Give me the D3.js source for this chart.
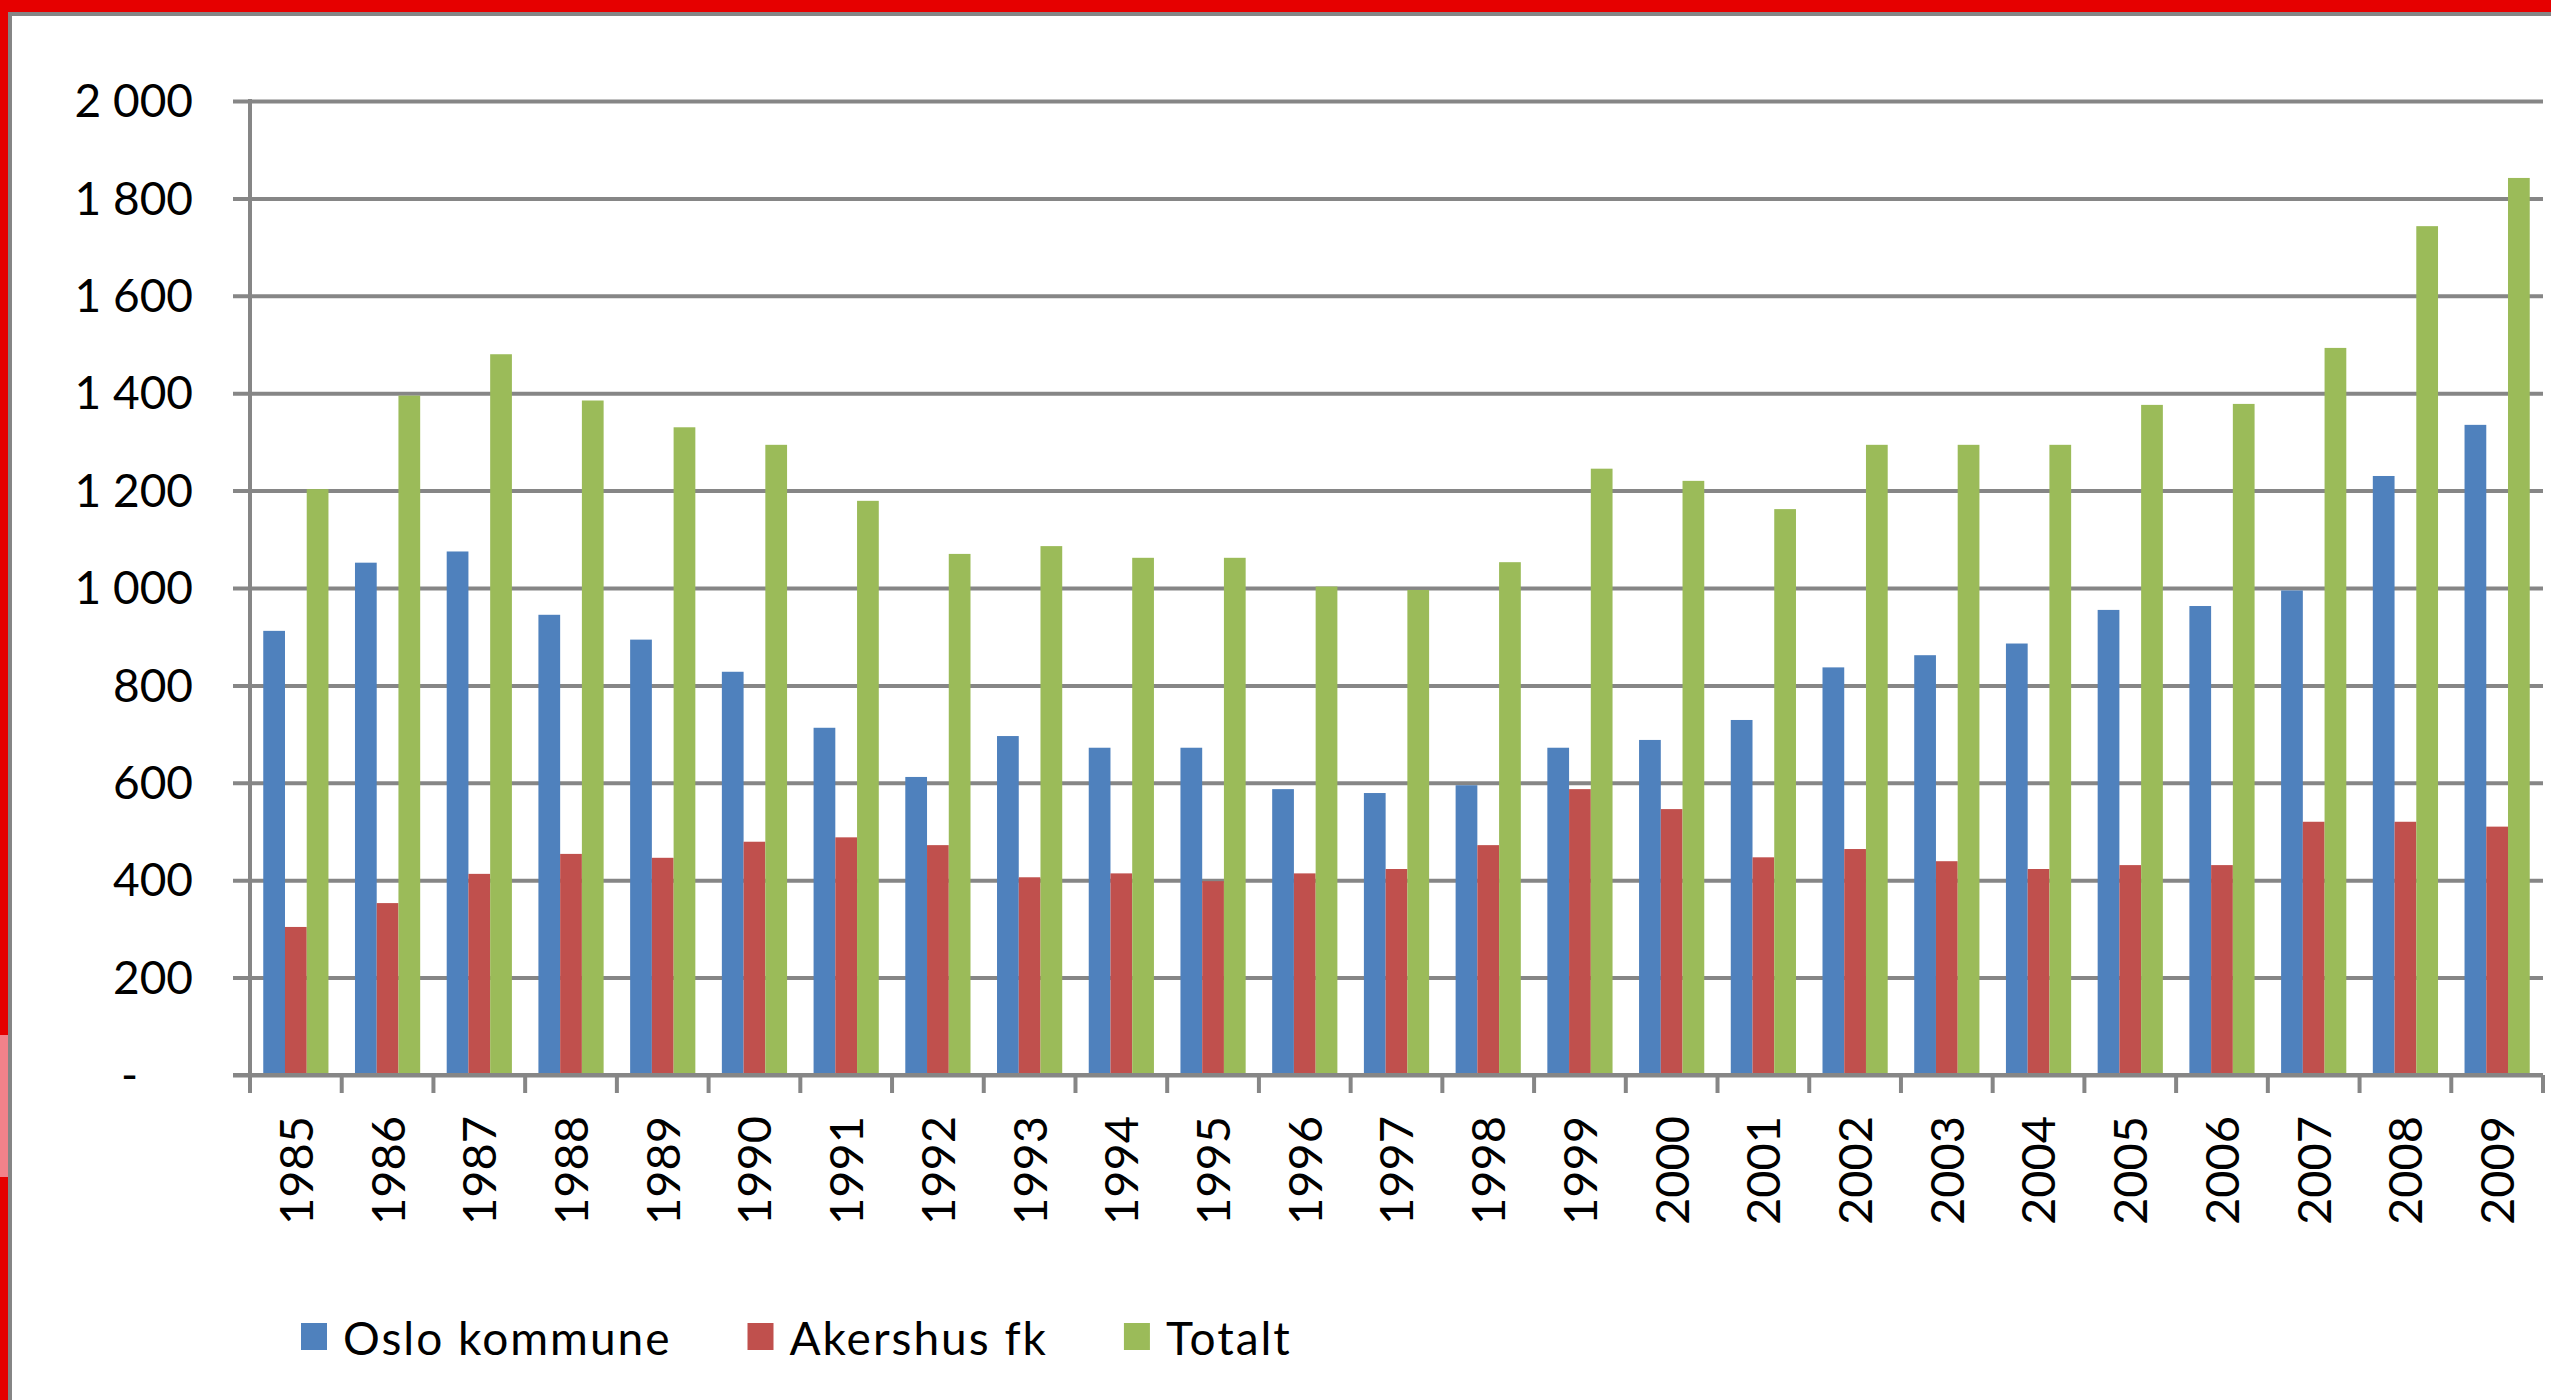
<!DOCTYPE html>
<html>
<head>
<meta charset="utf-8">
<script src="https://cdn.jsdelivr.net/npm/d3@7"></script>
<style>
    html, body { margin: 0; padding: 0; background: #ffffff; }
    svg { display: block; }
    text { font-family: Lato, "Open Sans", sans-serif; fill: #000000; }
</style>
</head>
<body>
<svg id="chart" width="2551" height="1400"></svg>
<script>
// Years on the category axis
var years = ["1985", "1986", "1987", "1988", "1989", "1990", "1991", "1992", "1993",
    "1994", "1995", "1996", "1997", "1998", "1999", "2000", "2001", "2002", "2003",
    "2004", "2005", "2006", "2007", "2008", "2009"];

var seriesNames = ["Oslo kommune", "Akershus fk", "Totalt"];

var osloValues = [912, 1052, 1075, 945, 894, 828, 713, 612, 696, 672, 672, 587, 579,
    595, 672, 688, 729, 837, 862, 886, 955, 963, 995, 1230, 1335];

var akershusValues = [304, 353, 413, 454, 446, 479, 488, 472, 406, 414, 398, 414, 423,
    472, 587, 546, 447, 464, 439, 423, 431, 431, 520, 520, 510];

var totalValues = [1203, 1395, 1480, 1385, 1330, 1294, 1179, 1070, 1086, 1062, 1062,
    1003, 996, 1053, 1245, 1220, 1162, 1294, 1294, 1294, 1376, 1378, 1493, 1743, 1842];

var yTicks = [0, 200, 400, 600, 800, 1000, 1200, 1400, 1600, 1800, 2000];

var seriesColors = ["#4f81bd", "#c0504d", "#9bbb59"];

var svg = d3.select("#chart");

// frame round the chart
svg.append("rect").attr("x", 0).attr("y", 0).attr("width", 2551).attr("height", 12).attr("fill", "#e60000");
svg.append("rect").attr("x", 0).attr("y", 0).attr("width", 8).attr("height", 1400).attr("fill", "#e60000");
svg.append("rect").attr("x", 0).attr("y", 1035).attr("width", 8).attr("height", 142).attr("fill", "#f2828a");
svg.append("rect").attr("x", 8).attr("y", 12).attr("width", 2543).attr("height", 4).attr("fill", "#858585");
svg.append("rect").attr("x", 8).attr("y", 12).attr("width", 4).attr("height", 1388).attr("fill", "#858585");

// plot area (note: "top" is taken by window.top, so use other names)
var plotLeft = 250, plotRight = 2543, plotTop = 101, plotBottom = 1075;

var x0 = d3.scaleBand().domain(years).range([plotLeft, plotRight]).padding(0);
var x1 = d3.scaleBand().domain(d3.range(seriesNames.length))
    .range([0, x0.bandwidth()]).paddingInner(0).paddingOuter(0.61);
var y = d3.scaleLinear().domain([0, 2000]).range([plotBottom, plotTop]);

var gridColor = "#868686";

// horizontal gridlines, with the small tick stub on the left
var yAxis = d3.axisLeft(y)
    .tickValues(yTicks)
    .tickSize(-(plotRight - plotLeft))
    .tickPadding(40)
    .tickFormat(function(d) {
        if (d === 0) return "-";
        return d3.format(",")(d).replace(/,/g, " ");
    });

var gY = svg.append("g").attr("transform", "translate(" + plotLeft + ",0)").call(yAxis);
gY.select(".domain").remove();
gY.selectAll(".tick line")
    .attr("x1", -17)
    .attr("stroke", gridColor)
    .attr("stroke-width", 4);
gY.selectAll(".tick text")
    .style("font-size", "46px")
    .attr("fill", "#000")
    .attr("dy", "0.34em")
    .attr("x", function(d) { return d === 0 ? -112 : -57; });

// bars
var seriesData = [osloValues, akershusValues, totalValues];
var groups = svg.append("g").selectAll("g")
    .data(years)
    .join("g")
    .attr("transform", function(d) { return "translate(" + x0(d) + ",0)"; });

groups.selectAll("rect")
    .data(function(d, i) {
        return seriesData.map(function(vals, s) { return { s: s, v: vals[i] }; });
    })
    .join("rect")
    .attr("x", function(d) { return x1(d.s); })
    .attr("width", x1.bandwidth())
    .attr("y", function(d) { return y(d.v); })
    .attr("height", function(d) { return y(0) - y(d.v); })
    .attr("fill", function(d) { return seriesColors[d.s]; });

// vertical axis line
svg.append("line")
    .attr("x1", plotLeft).attr("x2", plotLeft)
    .attr("y1", plotTop - 2).attr("y2", plotBottom + 18)
    .attr("stroke", gridColor).attr("stroke-width", 4);

// category axis, ticks sit between the years
var xAxis = d3.axisBottom(x0).tickSize(0).tickPadding(0);
var gX = svg.append("g").attr("transform", "translate(0," + plotBottom + ")").call(xAxis);
gX.select(".domain").remove();
gX.selectAll(".tick text")
    .style("font-size", "47px")
    .attr("fill", "#000")
    .attr("text-anchor", "end")
    .attr("transform", "rotate(-90)")
    .attr("x", -41)
    .attr("y", 0)
    .attr("dy", "0.36em");

svg.append("line")
    .attr("x1", plotLeft - 17).attr("x2", plotRight)
    .attr("y1", plotBottom).attr("y2", plotBottom)
    .attr("stroke", gridColor).attr("stroke-width", 4);

svg.append("g").selectAll("line")
    .data(years.concat(["end"]))
    .join("line")
    .attr("x1", function(d, i) { return plotLeft + i * x0.step(); })
    .attr("x2", function(d, i) { return plotLeft + i * x0.step(); })
    .attr("y1", plotBottom)
    .attr("y2", plotBottom + 18)
    .attr("stroke", gridColor)
    .attr("stroke-width", 4);

// legend, laid out one item after the other
var legend = svg.append("g").attr("transform", "translate(301,1323)");
var lx = 0;
seriesNames.forEach(function(name, i) {
    legend.append("rect")
        .attr("x", lx).attr("y", 0)
        .attr("width", 26).attr("height", 27)
        .attr("fill", seriesColors[i]);
    var t = legend.append("text")
        .attr("x", lx + 42)
        .attr("y", 32)
        .style("font-size", "46px")
        .style("letter-spacing", "2px")
        .text(name);
    lx += 42 + t.node().getComputedTextLength() + 76;
});
</script>
</body>
</html>
